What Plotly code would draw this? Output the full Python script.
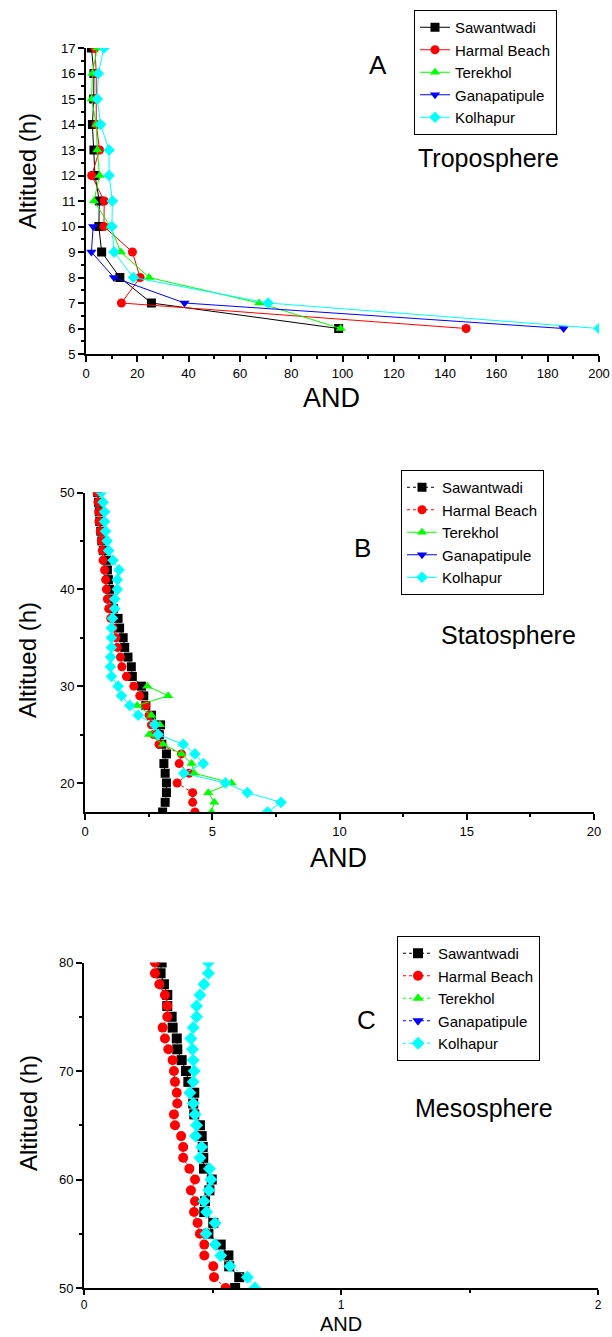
import plotly.graph_objects as go

W, H = 612, 1337

# ---------------- Panel A: Troposphere ----------------
alt_a = [6, 7, 8, 9, 10, 11, 12, 13, 14, 15, 16, 17]
saw_a = [98.5, 25.5, 13.2, 6.1, 5.0, 5.2, 3.5, 3.1, 2.5, 3.0, 3.1, 2.1]
har_a = [148.2, 13.8, 21.1, 18.1, 7.0, 7.1, 2.2, 5.3, 4.0, 3.9, 4.0, 3.5]
ter_a = [99.3, 67.5, 24.6, 13.6, 9.5, 3.1, 5.3, 4.4, 4.0, 2.2, 2.5, 4.4]
alt_a_gan = [6, 7, 8, 9, 10]
gan_a = [186.2, 38.4, 10.9, 2.1, 2.8]
kol_a = [200, 71, 18.5, 10.9, 10.1, 10.3, 9.0, 9.0, 5.7, 4.4, 4.8, 7.0]

# ---------------- Panel B: Stratosphere ----------------
alt_b = list(range(17, 51))
saw_b = [3.05, 3.15, 3.2, 3.2, 3.15, 3.1, 3.2, 3.02, 2.92, 2.97, 2.61, 2.39, 2.31, 2.22,
         1.86, 1.82, 1.69, 1.56, 1.50, 1.36, 1.30, 1.12, 1.02, 0.97, 0.92, 0.88, 0.84,
         0.72, 0.66, 0.62, 0.58, 0.56, 0.53, 0.50]
har_b = [4.32, 4.23, 4.23, 3.62, 4.09, 3.70, 3.79, 2.91, 2.70, 2.61, 2.52, 2.39, 2.15, 1.92,
         1.63, 1.45, 1.39, 1.27, 1.21, 1.10, 1.01, 0.93, 0.88, 0.84, 0.81, 0.77, 0.71,
         0.68, 0.64, 0.60, 0.55, 0.54, 0.51, 0.47]
alt_b_ter = list(range(17, 31))
ter_b = [4.97, 5.08, 4.84, 5.76, 4.29, 4.19, 3.79, 3.07, 2.52, 2.94, 2.61, 2.05, 3.27, 2.45]
kol_b = [7.17, 7.70, 6.38, 5.52, 3.88, 4.65, 4.32, 3.86, 2.87, 2.74, 2.09, 1.76, 1.43, 1.30,
         1.04, 1.00, 1.01, 1.04, 1.04, 1.04, 1.08, 1.17, 1.17, 1.27, 1.27, 1.34, 1.10,
         0.93, 0.87, 0.81, 0.77, 0.77, 0.71, 0.64]

# ---------------- Panel C: Mesosphere ----------------
alt_c = list(range(50, 81))
saw_c = [0.588, 0.604, 0.565, 0.562, 0.532, 0.484, 0.503, 0.468, 0.471, 0.488, 0.497,
         0.467, 0.464, 0.462, 0.458, 0.451, 0.429, 0.425, 0.429, 0.406, 0.397, 0.380,
         0.363, 0.361, 0.345, 0.341, 0.324, 0.324, 0.311, 0.298, 0.302]
har_c = [0.551, 0.506, 0.503, 0.468, 0.468, 0.451, 0.442, 0.428, 0.432, 0.416, 0.432,
         0.410, 0.386, 0.386, 0.378, 0.354, 0.350, 0.363, 0.361, 0.354, 0.350, 0.345,
         0.328, 0.315, 0.306, 0.324, 0.324, 0.315, 0.293, 0.276, 0.276]
kol_c = [0.665, 0.636, 0.568, 0.532, 0.510, 0.475, 0.510, 0.477, 0.467, 0.486, 0.494,
         0.488, 0.451, 0.458, 0.434, 0.438, 0.432, 0.425, 0.412, 0.425, 0.429, 0.425,
         0.422, 0.416, 0.425, 0.438, 0.438, 0.451, 0.467, 0.484, 0.484]

names = ["Sawantwadi", "Harmal Beach", "Terekhol", "Ganapatipule", "Kolhapur"]
colors = ["#000000", "#FF0000", "#00FF00", "#0000FF", "#00FFFF"]
symbols = ["square", "circle", "triangle-up", "triangle-down", "diamond"]

FONT = "Liberation Sans, Arial, sans-serif"

fig = go.Figure()


def add(panel, i, x, y, msize, dash):
    ax = "" if panel == 1 else str(panel)
    fig.add_trace(go.Scatter(
        x=x, y=y, name=names[i], mode="lines+markers",
        xaxis="x" + ax, yaxis="y" + ax,
        legend="legend" + ax,
        line=dict(color=colors[i], width=1, dash=dash),
        marker=dict(symbol=symbols[i], color=colors[i], size=msize),
    ))


# Panel A
add(1, 0, saw_a, alt_a, 9, "solid")
add(1, 1, har_a, alt_a, 9, "solid")
add(1, 2, ter_a, alt_a, 9, "solid")
add(1, 3, gan_a, alt_a_gan, 9, "solid")
add(1, 4, kol_a, alt_a, 9, "solid")

# Panel B
add(2, 0, saw_b, alt_b, 9, "dot")
add(2, 1, har_b, alt_b, 9, "dot")
add(2, 2, ter_b, alt_b_ter, 9, "solid")
add(2, 3, [None], [None], 9, "solid")
add(2, 4, kol_b, alt_b, 9, "solid")

# Panel C
add(3, 0, saw_c, alt_c, 10, "dot")
add(3, 1, har_c, alt_c, 10, "dot")
add(3, 2, [None], [None], 10, "dot")
add(3, 3, [None], [None], 10, "dot")
add(3, 4, kol_c, alt_c, 10, "dot")


def px_x(p):
    return p / W


def px_y(p):
    return 1 - p / H


axis_common = dict(
    showline=True, linecolor="black", linewidth=2, ticks="outside",
    tickwidth=1.5, tickcolor="black", showgrid=False, zeroline=False, automargin=False,
)


def tf(size):
    return dict(family=FONT, size=size, color="black")


def minor(d, t0=None):
    m = dict(dtick=d, ticks="outside", ticklen=3, tickwidth=1.5, tickcolor="black", showgrid=False)
    if t0 is not None:
        m["tick0"] = t0
    return m


layout = dict(
    width=W, height=H,
    margin=dict(l=0, r=0, t=0, b=0, autoexpand=False),
    paper_bgcolor="white", plot_bgcolor="white",
    showlegend=True,
    xaxis=dict(domain=[px_x(86), px_x(599)], range=[0, 200], anchor="y",
               tick0=0, dtick=20, minor=minor(10), ticklen=6, tickfont=tf(13), **axis_common),
    yaxis=dict(domain=[px_y(354), px_y(48)], range=[5, 17], anchor="x",
               tick0=5, dtick=1, minor=minor(0.5), ticklen=6, tickfont=tf(13), **axis_common),
    xaxis2=dict(domain=[px_x(85), px_x(594)], range=[0, 20], anchor="y2",
                tick0=0, dtick=5, minor=minor(2.5), ticklen=6, tickfont=tf(13), **axis_common),
    yaxis2=dict(domain=[px_y(812), px_y(492.5)], range=[17, 50], anchor="x2",
                tick0=20, dtick=10, minor=minor(10, 15), ticklen=6, tickfont=tf(13), **axis_common),
    xaxis3=dict(domain=[px_x(84), px_x(598)], range=[0, 2], anchor="y3",
                tick0=0, dtick=1, minor=minor(0.5), ticklen=5, tickfont=tf(12), **axis_common),
    yaxis3=dict(domain=[px_y(1288), px_y(962.5)], range=[50, 80], anchor="x3",
                tick0=50, dtick=10, minor=minor(5), ticklen=6, tickfont=tf(13), **axis_common),
)

leg_common = dict(
    bordercolor="black", borderwidth=1, bgcolor="white",
    font=dict(family=FONT, size=15, color="black"),
    xanchor="left", yanchor="top", tracegroupgap=0, itemsizing="trace",
)
layout["legend"] = dict(x=px_x(414), y=px_y(10), **leg_common)
layout["legend2"] = dict(x=px_x(401), y=px_y(470), **leg_common)
layout["legend3"] = dict(x=px_x(397), y=px_y(936), **leg_common)

fig.update_layout(**layout)


def note(text, x, y, size, angle=0, yanchor="middle"):
    fig.add_annotation(text=text, x=px_x(x), y=px_y(y), xref="paper", yref="paper",
                       showarrow=False, xanchor="center", yanchor=yanchor, textangle=angle,
                       font=dict(family=FONT, size=size, color="black"))


note("A", 378, 65, 26)
note("Troposphere", 488, 158, 25)
note("B", 362, 548, 26)
note("Statosphere", 508, 635, 25)
note("C", 366, 1020, 26)
note("Mesosphere", 484, 1108, 25)

note("AND", 331, 398, 27)
note("AND", 338, 858, 27)
note("AND", 341, 1337, 20, yanchor="bottom")
note("Altitued (h)", 28, 171, 24, -90)
note("Altitued (h)", 28, 660, 24, -90)
note("Altitued (h)", 28, 1113, 24, -90)

fig.write_html(
    "out.html",
    config={"displayModeBar": False},
    post_script="document.body.style.margin='0';document.body.style.overflow='hidden';",
)
